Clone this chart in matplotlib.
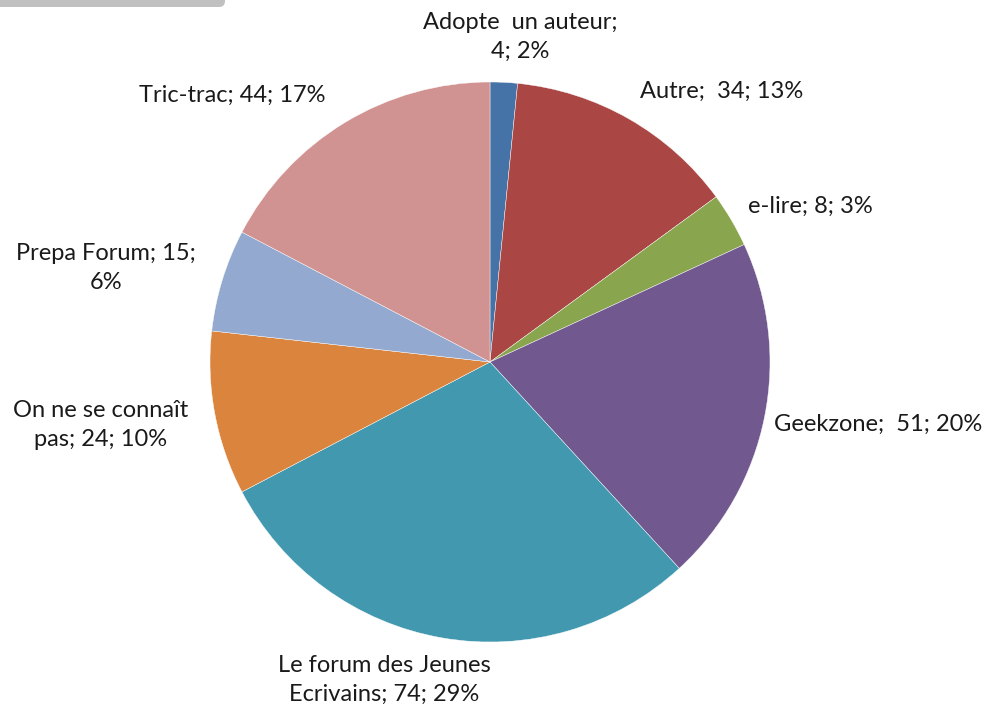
import matplotlib.pyplot as plt
from matplotlib.patches import FancyBboxPatch

# data
names = ["Adopte un auteur", "Autre", "e-lire", "Geekzone",
         "Le forum des Jeunes Ecrivains", "On ne se connaît pas",
         "Prepa Forum", "Tric-trac"]
counts = [4, 34, 8, 51, 74, 24, 15, 44]
percents = [2, 13, 3, 20, 29, 10, 6, 17]
label_texts = ["Adopte  un auteur;\n4; 2%", "Autre;  34; 13%", "e-lire; 8; 3%",
               "Geekzone;  51; 20%", "Le forum des Jeunes\nEcrivains; 74; 29%",
               "On ne se connaît\npas; 24; 10%", "Prepa Forum; 15;\n6%",
               "Tric-trac; 44; 17%"]
colors = ["#4572A7", "#AA4643", "#89A54E", "#71588F",
          "#4198AF", "#DB843D", "#93A9CF", "#D19392"]

# label centres in pixels (from top-left)
label_pos = [(520, 37), (722, 91), (810, 206), (878, 424),
             (384, 680), (101, 425), (106, 268), (232, 95)]

W, H = 1002, 713
fig = plt.figure(figsize=(W / 100, H / 100), dpi=100)
ax = fig.add_axes([0, 0, 1, 1])
ax.set_xlim(0, W)
ax.set_ylim(0, H)
ax.set_aspect("equal")
ax.axis("off")

ax.pie(counts, colors=colors, startangle=90, counterclock=False,
       center=(490, H - 362), radius=280,
       wedgeprops=dict(edgecolor="white", linewidth=0.3))
ax.set_xlim(0, W)
ax.set_ylim(0, H)

for txt, (x, y) in zip(label_texts, label_pos):
    ax.text(x, H - y, txt, ha="center", va="center", fontsize=17,
            family="Lato", color="#1a1a1a", linespacing=1.45)

# grey bar left over at the top
ax.add_patch(FancyBboxPatch((-20, H - 7), 245, 30,
                            boxstyle="round,pad=0,rounding_size=6",
                            facecolor="#c0c0c0", edgecolor="none",
                            clip_on=True))

fig.savefig("out.png", dpi=100)
